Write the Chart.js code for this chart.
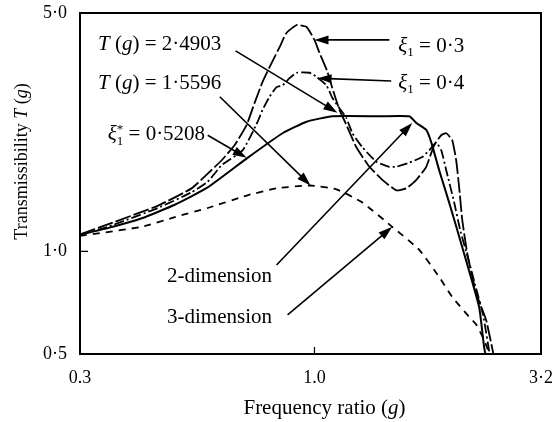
<!DOCTYPE html>
<html>
<head>
<meta charset="utf-8">
<script src="https://cdn.jsdelivr.net/npm/chart.js@4.4.1/dist/chart.umd.min.js"></script>
<style>
body { margin: 0; background: #fff; }
canvas { display: block; }
</style>
</head>
<body>
<canvas id="chart" width="556" height="422"></canvas>
<script>
// frequency ratio g and transmissibility T
var xi03G = [0.300, 0.346, 0.447, 0.532, 0.578, 0.621, 0.664, 0.706, 0.735, 0.766, 0.794, 0.836, 0.866, 0.912, 0.960, 1.000, 1.026, 1.069, 1.096, 1.137, 1.178, 1.240, 1.326, 1.417, 1.522, 1.602, 1.687, 1.775, 1.849, 1.917, 1.967, 2.028, 2.070, 2.102, 2.135, 2.190, 2.294, 2.414, 2.514];
var xi03T = [1.12, 1.20, 1.36, 1.53, 1.69, 1.85, 2.05, 2.35, 2.72, 3.14, 3.47, 3.97, 4.37, 4.61, 4.55, 4.17, 3.82, 3.36, 3.01, 2.60, 2.35, 2.02, 1.77, 1.62, 1.51, 1.53, 1.62, 1.77, 2.05, 2.19, 2.22, 2.12, 1.85, 1.54, 1.24, 0.99, 0.755, 0.629, 0.49];

var xi04G = [0.300, 0.346, 0.447, 0.532, 0.578, 0.621, 0.692, 0.747, 0.766, 0.794, 0.823, 0.849, 0.880, 0.912, 0.975, 1.010, 1.063, 1.096, 1.137, 1.178, 1.215, 1.279, 1.374, 1.469, 1.522, 1.627, 1.739, 1.803, 1.868, 1.917, 1.967, 2.049, 2.113, 2.190, 2.282, 2.377, 2.464];
var xi04T = [1.12, 1.18, 1.34, 1.49, 1.60, 1.79, 1.98, 2.40, 2.60, 2.84, 3.03, 3.07, 3.22, 3.34, 3.34, 3.25, 3.07, 2.82, 2.63, 2.46, 2.22, 2.02, 1.83, 1.77, 1.77, 1.82, 1.89, 1.98, 2.08, 1.98, 1.73, 1.39, 1.155, 0.976, 0.797, 0.651, 0.49];

var xiOptG = [0.300, 0.346, 0.412, 0.488, 0.578, 0.709, 0.849, 0.960, 1.096, 1.395, 1.627, 1.687, 1.775, 1.821, 1.897, 1.997, 2.135, 2.329, 2.389, 2.414];
var xiOptT = [1.12, 1.17, 1.25, 1.37, 1.54, 1.88, 2.22, 2.40, 2.49, 2.49, 2.49, 2.38, 2.27, 2.09, 1.73, 1.39, 1.03, 0.687, 0.524, 0.49];

var dim3G = [0.300, 0.412, 0.488, 0.578, 0.709, 0.823, 0.975, 1.119, 1.279, 1.491, 1.713, 1.897, 2.028, 2.213, 2.294, 2.389, 2.470];
var dim3T = [1.11, 1.18, 1.26, 1.34, 1.46, 1.53, 1.56, 1.52, 1.39, 1.18, 1.01, 0.841, 0.735, 0.642, 0.61, 0.55, 0.49];

var xTickValues = [0.3, 1.0, 3.2];
var xTickLabels = ['0.3', '1.0', '3·2'];
var yTickValues = [0.5, 1.0, 5.0];
var yTickLabels = ['0·5', '1·0', '5·0'];

// labels with arrows, anchored in data units (g, T)
var notes = [
    { parts: [{ t: 'T', i: 1 }, { t: ' (' }, { t: 'g', i: 1 }, { t: ') = 2·4903' }], at: [0.329, 4.08], from: [0.667, 3.87], to: [1.125, 2.55] },
    { parts: [{ t: 'T', i: 1 }, { t: ' (' }, { t: 'g', i: 1 }, { t: ') = 1·5596' }], at: [0.329, 3.14], from: [0.615, 2.84], to: [0.980, 1.56] },
    { parts: [{ t: 'ξ', i: 1 }, { t: '1', sub: 1, sup: '*' }, { t: ' = 0·5208' }], at: [0.346, 2.22], from: [0.578, 2.19], to: [0.706, 1.88] },
    { parts: [{ t: 'ξ', i: 1 }, { t: '1', sub: 1 }, { t: ' = 0·3' }], at: [1.538, 4.03], from: [1.469, 4.17], to: [1.000, 4.17] },
    { parts: [{ t: 'ξ', i: 1 }, { t: '1', sub: 1 }, { t: ' = 0·4' }], at: [1.538, 3.14], from: [1.483, 3.16], to: [1.016, 3.22] },
    { parts: [{ t: '2-dimension' }], at: [0.469, 0.852], from: [0.823, 0.912], to: [1.652, 2.38] },
    { parts: [{ t: '3-dimension' }], at: [0.469, 0.646], from: [0.871, 0.651], to: [1.491, 1.18] }
];

var FONT = '"Liberation Serif", "Times New Roman", serif';

function pts(gs, ts) {
    return gs.map(function (g, i) { return { x: g, y: ts[i] }; });
}

function richWidth(ctx, parts, size) {
    var w = 0;
    parts.forEach(function (p) {
        var s = p.sub ? size * 0.62 : size;
        ctx.font = (p.i ? 'italic ' : '') + s + 'px ' + FONT;
        var pw = ctx.measureText(p.t).width;
        if (p.sup) pw = Math.max(pw, ctx.measureText(p.sup).width);
        w += pw;
    });
    return w;
}

// x, y = left end of the text baseline
function drawRich(ctx, x, y, parts, size) {
    parts.forEach(function (p) {
        var s = p.sub ? size * 0.62 : size;
        ctx.font = (p.i ? 'italic ' : '') + s + 'px ' + FONT;
        var w = ctx.measureText(p.t).width;
        ctx.fillText(p.t, x, y + (p.sub ? size * 0.22 : 0));
        if (p.sup) {
            ctx.fillText(p.sup, x, y - size * 0.36);
            w = Math.max(w, ctx.measureText(p.sup).width);
        }
        x += w;
    });
}

function arrow(ctx, x1, y1, x2, y2) {
    var ang = Math.atan2(y2 - y1, x2 - x1);
    var len = 14, half = 4.5;
    ctx.beginPath();
    ctx.moveTo(x1, y1);
    ctx.lineTo(x2 - Math.cos(ang) * len * 0.8, y2 - Math.sin(ang) * len * 0.8);
    ctx.stroke();
    ctx.beginPath();
    ctx.moveTo(x2, y2);
    ctx.lineTo(x2 - Math.cos(ang) * len - Math.sin(ang) * half, y2 - Math.sin(ang) * len + Math.cos(ang) * half);
    ctx.lineTo(x2 - Math.cos(ang) * len + Math.sin(ang) * half, y2 - Math.sin(ang) * len - Math.cos(ang) * half);
    ctx.closePath();
    ctx.fill();
}

var decorPlugin = {
    id: 'decor',
    afterDraw: function (chart) {
        var ctx = chart.ctx, a = chart.chartArea;
        var xs = chart.scales.x, ys = chart.scales.y;
        ctx.save();
        ctx.setLineDash([]);
        ctx.strokeStyle = '#000';
        ctx.fillStyle = '#000';

        // frame round the plot area
        ctx.lineWidth = 2;
        ctx.strokeRect(a.left, a.top, a.right - a.left, a.bottom - a.top);

        // inner tick marks at 1.0
        ctx.lineWidth = 1.2;
        var tx = xs.getPixelForValue(1.0), ty = ys.getPixelForValue(1.0);
        ctx.beginPath();
        ctx.moveTo(tx, a.bottom); ctx.lineTo(tx, a.bottom - 7);
        ctx.moveTo(a.left, ty); ctx.lineTo(a.left + 8, ty);
        ctx.stroke();

        // notes
        ctx.lineWidth = 1.6;
        ctx.textBaseline = 'alphabetic';
        ctx.textAlign = 'left';
        notes.forEach(function (n) {
            var size = 21;
            drawRich(ctx, xs.getPixelForValue(n.at[0]), ys.getPixelForValue(n.at[1]) + size * 0.33, n.parts, size);
            arrow(ctx, xs.getPixelForValue(n.from[0]), ys.getPixelForValue(n.from[1]),
                  xs.getPixelForValue(n.to[0]), ys.getPixelForValue(n.to[1]));
        });

        // axis titles
        var xt = [{ t: 'Frequency ratio (' }, { t: 'g', i: 1 }, { t: ')' }];
        var w = richWidth(ctx, xt, 21);
        drawRich(ctx, (a.left + a.right) / 2 + 14 - w / 2, a.bottom + 60, xt, 21);

        var yt = [{ t: 'Transmissibility ' }, { t: 'T', i: 1 }, { t: ' (' }, { t: 'g', i: 1 }, { t: ')' }];
        w = richWidth(ctx, yt, 18);
        ctx.translate(a.left - 53, (a.top + a.bottom) / 2 - 22);
        ctx.rotate(-Math.PI / 2);
        drawRich(ctx, -w / 2, 0, yt, 18);
        ctx.restore();
    }
};

function lineSet(label, data, dash, width) {
    return {
        label: label,
        data: data,
        borderColor: '#000',
        backgroundColor: '#000',
        borderWidth: width,
        borderDash: dash,
        pointRadius: 0,
        fill: false,
        tension: 0.15
    };
}

// invisible tick marks only push the labels away from the axes
var xGrid = { display: true, drawOnChartArea: false, drawTicks: true, tickLength: 10, color: 'rgba(0,0,0,0)' };
var yGrid = { display: true, drawOnChartArea: false, drawTicks: true, tickLength: 13, color: 'rgba(0,0,0,0)' };

var ctx = document.getElementById('chart').getContext('2d');
new Chart(ctx, {
    type: 'line',
    data: {
        datasets: [
            lineSet('ξ1 = 0·3', pts(xi03G, xi03T), [16, 3], 1.8),
            lineSet('ξ1 = 0·4', pts(xi04G, xi04T), [10, 3, 2, 3], 1.8),
            lineSet('ξ1* = 0·5208', pts(xiOptG, xiOptT), [], 2),
            lineSet('3-dimension', pts(dim3G, dim3T), [7, 6], 1.8)
        ]
    },
    options: {
        responsive: false,
        animation: false,
        // right margin comes from the half width of the '3·2' label plus its padding
        layout: { padding: { top: 13, right: 0, left: 0, bottom: 0 } },
        plugins: {
            legend: { display: false },
            tooltip: { enabled: false }
        },
        scales: {
            x: {
                type: 'logarithmic',
                min: 0.3,
                max: 3.2,
                grid: xGrid,
                border: { display: false },
                afterBuildTicks: function (scale) {
                    scale.ticks = xTickValues.map(function (v) { return { value: v }; });
                },
                afterFit: function (scale) { scale.height = 68; },
                ticks: {
                    autoSkip: false,
                    maxRotation: 0,
                    padding: 3,
                    color: '#000',
                    font: { family: FONT, size: 18 },
                    callback: function (value) {
                        return xTickLabels[xTickValues.indexOf(value)];
                    }
                }
            },
            y: {
                type: 'logarithmic',
                min: 0.5,
                max: 5.0,
                grid: yGrid,
                border: { display: false },
                afterBuildTicks: function (scale) {
                    scale.ticks = yTickValues.map(function (v) { return { value: v }; });
                },
                afterFit: function (scale) { scale.width = 80; },
                ticks: {
                    autoSkip: false,
                    padding: 0,
                    color: '#000',
                    font: { family: FONT, size: 18 },
                    callback: function (value) {
                        return yTickLabels[yTickValues.indexOf(value)];
                    }
                }
            }
        }
    },
    plugins: [decorPlugin]
});
</script>
</body>
</html>
